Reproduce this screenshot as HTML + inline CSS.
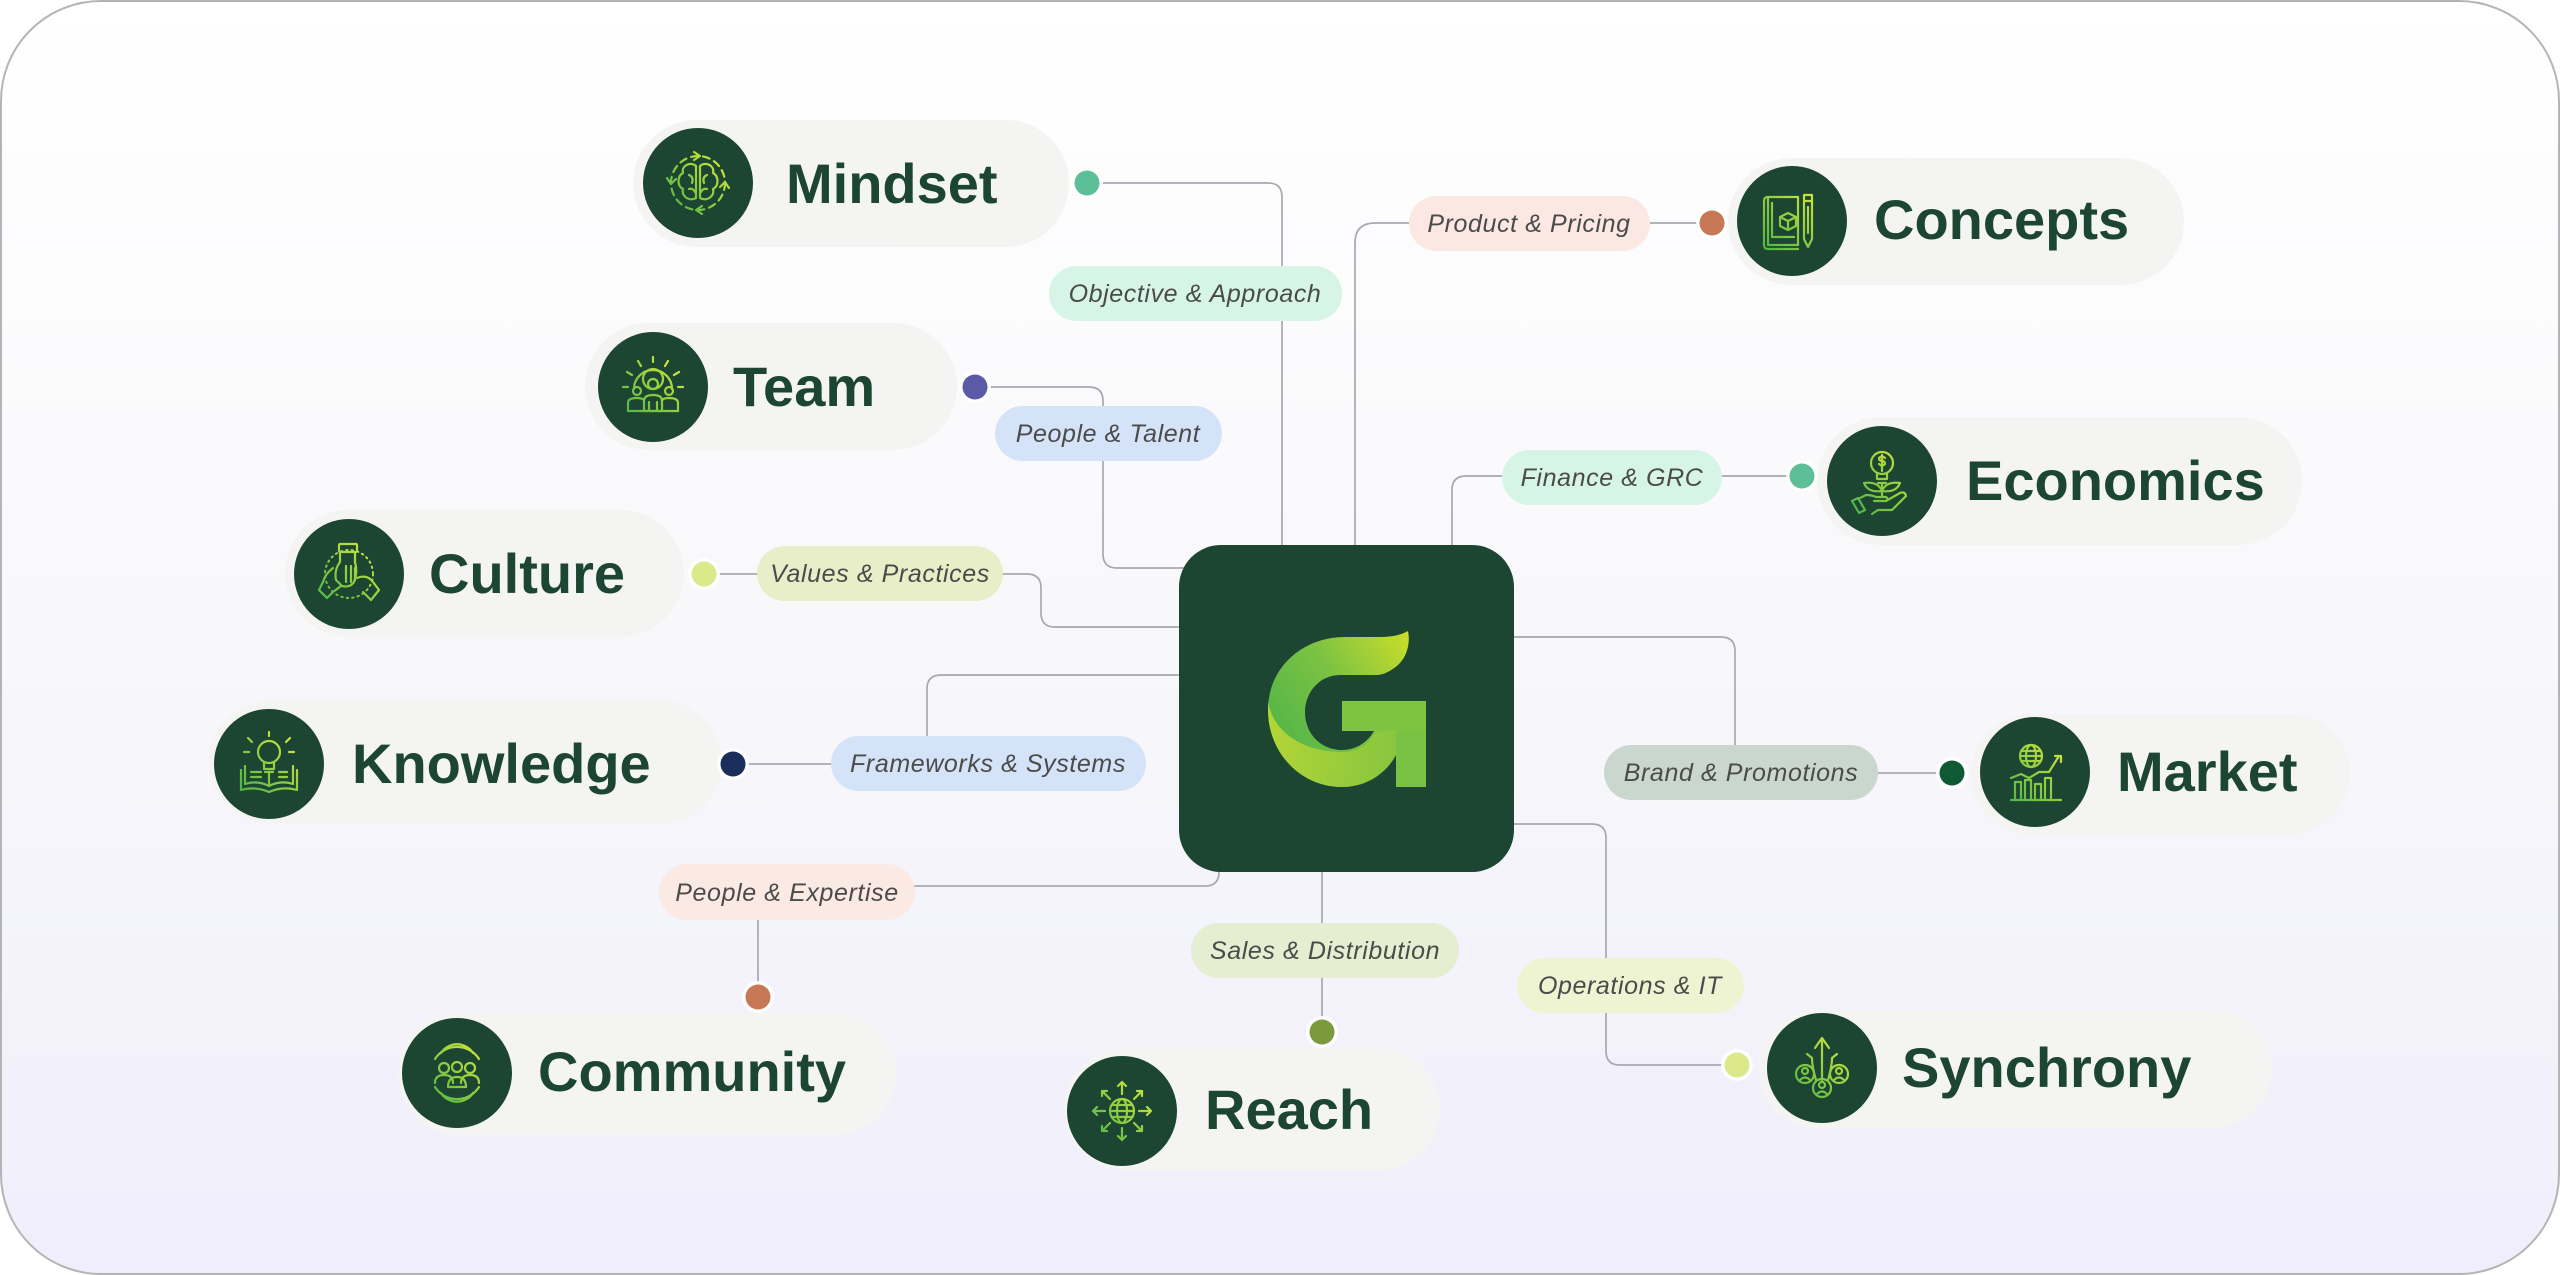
<!DOCTYPE html>
<html>
<head>
<meta charset="utf-8">
<style>
html,body{margin:0;padding:0;background:#ffffff;}
body{width:2560px;height:1275px;overflow:hidden;}
svg{display:block;}
.node{font-family:"Liberation Sans",Arial,sans-serif;font-weight:bold;font-size:56px;fill:#1c4532;}
.lbl{font-family:"Liberation Sans",Arial,sans-serif;font-style:italic;font-size:25px;fill:#4b4b4b;letter-spacing:0.6px;}
</style>
</head>
<body>
<svg width="2560" height="1275" viewBox="0 0 2560 1275" xmlns="http://www.w3.org/2000/svg">
<defs>
<linearGradient id="bg" x1="0" y1="0" x2="0" y2="1">
<stop offset="0" stop-color="#ffffff"/>
<stop offset="0.5" stop-color="#f8f8fb"/>
<stop offset="1" stop-color="#f0eefb"/>
</linearGradient>
<linearGradient id="ig" gradientUnits="userSpaceOnUse" x1="-28" y1="28" x2="28" y2="-28">
<stop offset="0" stop-color="#4db548"/>
<stop offset="1" stop-color="#d8e83a"/>
</linearGradient>
<linearGradient id="gmain" gradientUnits="userSpaceOnUse" x1="1275" y1="720" x2="1410" y2="635">
<stop offset="0" stop-color="#58b747"/>
<stop offset="0.45" stop-color="#7cc242"/>
<stop offset="1" stop-color="#cbde2b"/>
</linearGradient>
<linearGradient id="gfold" gradientUnits="userSpaceOnUse" x1="1268" y1="740" x2="1400" y2="760">
<stop offset="0" stop-color="#b3d536"/>
<stop offset="1" stop-color="#86c53f"/>
</linearGradient>
</defs>

<!-- frame -->
<rect x="1" y="1" width="2558" height="1273" rx="100" ry="100" fill="url(#bg)" stroke="#b4b4b4" stroke-width="2"/>

<!-- connectors -->
<g fill="none" stroke="#a8a8b0" stroke-width="1.7">
<!-- Mindset -->
<path d="M1099 183 H1268 Q1282 183 1282 197 V546"/>
<!-- Team -->
<path d="M987 387 H1089 Q1103 387 1103 401 V554 Q1103 568 1117 568 H1193"/>
<!-- Culture -->
<path d="M716 574 H760"/>
<path d="M1000 574 H1027 Q1041 574 1041 588 V613 Q1041 627 1055 627 H1180"/>
<!-- Knowledge -->
<path d="M745 764 H834"/>
<path d="M927 738 V689 Q927 675 941 675 H1180"/>
<!-- Community -->
<path d="M912 886 H1205 Q1219 886 1219 872"/>
<path d="M758 918 V985"/>
<!-- Reach -->
<path d="M1322 871 V1020"/>
<!-- Synchrony -->
<path d="M1513 824 H1592 Q1606 824 1606 838 V1051 Q1606 1065 1620 1065 H1725"/>
<!-- Market -->
<path d="M1513 637 H1721 Q1735 637 1735 651 V748"/>
<path d="M1875 773 H1940"/>
<!-- Economics -->
<path d="M1452 546 V490 Q1452 476 1466 476 H1505"/>
<path d="M1719 476 H1790"/>
<!-- Concepts -->
<path d="M1355 546 V243 Q1355 223 1375 223 H1412"/>
<path d="M1647 223 H1700"/>
</g>

<!-- center box -->
<rect x="1179" y="545" width="335" height="327" rx="42" ry="42" fill="#1c4532"/>
<!-- G logo -->
<path d="M1408 631 C1411 646 1405 659 1398 665 C1392 670 1386 674 1378 675 L1340 675 C1320 675 1305 692 1305 712 C1305 735 1322 750 1342 750 C1356 750 1368 742 1374 731 L1342 731 L1342 701 L1426 701 L1426 787 L1396 787 L1396 755 C1385 775 1365 787 1342 787 C1300 787 1268 752 1268 710 C1268 668 1302 637 1345 637 L1380 637 C1392 637 1401 635 1408 631 Z" fill="url(#gmain)"/>
<path d="M1268 702 C1274 734 1305 752 1342 752 C1358 752 1369 744 1375 733 L1396 733 L1396 755 C1385 775 1365 787 1342 787 C1300 787 1268 752 1268 710 Z" fill="url(#gfold)"/>
<rect x="1396" y="701" width="30" height="86" fill="#7ac243"/>
<path d="M1342 701 H1426 V731 H1342 Z" fill="#7fc342"/>

<!-- pills -->
<g fill="#f4f4f2">
<rect x="633" y="120" width="436" height="127" rx="63.5"/>
<rect x="585" y="323" width="372" height="127" rx="63.5"/>
<rect x="285" y="510" width="399" height="127" rx="63.5"/>
<rect x="209" y="700" width="513" height="124" rx="62"/>
<rect x="398" y="1012" width="498" height="123" rx="61.5"/>
<rect x="1064" y="1048" width="376" height="122" rx="61"/>
<rect x="1758" y="1010" width="514" height="118" rx="59"/>
<rect x="1971" y="714" width="379" height="120" rx="60"/>
<rect x="1817" y="417" width="485" height="128" rx="64"/>
<rect x="1728" y="158" width="456" height="127" rx="63.5"/>
</g>

<!-- icon circles -->
<g fill="#1c4532">
<circle cx="698" cy="183" r="55"/>
<circle cx="653" cy="387" r="55"/>
<circle cx="349" cy="574" r="55"/>
<circle cx="269" cy="764" r="55"/>
<circle cx="457" cy="1073" r="55"/>
<circle cx="1122" cy="1111" r="55"/>
<circle cx="1822" cy="1068" r="55"/>
<circle cx="2035" cy="772" r="55"/>
<circle cx="1882" cy="481" r="55"/>
<circle cx="1792" cy="221" r="55"/>
</g>

<!-- icons -->
<g fill="none" stroke="url(#ig)" stroke-width="2.2" stroke-linecap="round" stroke-linejoin="round">
<!-- Mindset -->
<g transform="translate(698,183)">
<circle r="27" stroke-dasharray="7 5"/>
<path d="M-2 -17 C-8 -22 -17 -17 -15 -10 C-21 -7 -21 3 -15 6 C-17 13 -9 19 -2 15 Z"/>
<path d="M2 -17 C8 -22 17 -17 15 -10 C21 -7 21 3 15 6 C17 13 9 19 2 15 Z"/>
<path d="M-9 -8 q5 2 3 8 M9 -8 q-5 2 -3 8 M-9 6 q4 -1 6 3 M9 6 q-4 -1 -6 3"/>
<path d="M-31 -5 l4 6 l5 -5 M31 5 l-4 -6 l-5 5 M-4 -31 l6 4 l-6 4 M4 31 l-6 -4 l6 -4"/>
</g>
<!-- Team -->
<g transform="translate(653,387)">
<path d="M-19 2 A19 19 0 1 1 19 2"/>
<path d="M-21 -12 l-5 -3 M21 -12 l5 -3 M-12 -21 l-3 -5 M12 -21 l3 -5 M0 -25 v-5 M-25 0 h-5 M25 0 h5"/>
<circle cx="0" cy="-8" r="10"/>
<circle cx="0" cy="-3" r="5"/>
<path d="M-9 24 v-10 q0 -6 9 -6 q9 0 9 6 v10 Z"/>
<circle cx="-16" cy="4" r="4"/>
<circle cx="16" cy="4" r="4"/>
<path d="M-25 24 v-8 q0 -5 9 -5 q5 0 7 2 M25 24 v-8 q0 -5 -9 -5 q-5 0 -7 2"/>
<path d="M-25 24 h50 M-4 15 v9 M4 15 v9"/>
</g>
<!-- Culture -->
<g transform="translate(349,574)">
<circle r="24" stroke-dasharray="1.5 4" stroke-width="2"/>
<rect x="-10" y="-30" width="18" height="8" rx="1"/>
<path d="M-9 -22 v10 q-6 8 -4 18 l6 6 q8 2 12 -4 q4 -10 1 -20 v-10"/>
<path d="M-3 -8 v16 M2 -8 v16 M6 -6 v12"/>
<path d="M-16 -6 q-8 6 -10 14 l-4 8 l8 8 l6 -6 l8 -6"/>
<path d="M8 4 q10 -4 16 4 l6 8 l-8 10 l-8 -8"/>
<path d="M-30 16 l8 8 M30 16 l-8 10"/>
</g>
<!-- Knowledge -->
<g transform="translate(269,764)">
<path d="M-28 6 V26 Q-14 22 0 28 Q14 22 28 26 V6"/>
<path d="M-24 2 V20 Q-12 16 0 22 Q12 16 24 20 V2"/>
<path d="M0 8 V22"/>
<circle cx="0" cy="-12" r="11"/>
<path d="M-5 -1 v6 h10 v-6 M-4 8 h8"/>
<path d="M-18 8 h10 M-18 13 h10 M10 8 h8 M10 13 h8"/>
<path d="M-17 -22 l-4 -4 M17 -22 l4 -4 M0 -28 v-4 M-20 -12 h-5 M20 -12 h5"/>
</g>
<!-- Community -->
<g transform="translate(457,1073)">
<path d="M-22 -14 A26 26 0 0 1 22 -14 M-16 -20 A19 19 0 0 1 16 -20"/>
<path d="M-22 14 A26 26 0 0 0 22 14 M-16 20 A19 19 0 0 0 16 20"/>
<circle cx="-13" cy="-5" r="5"/>
<circle cx="13" cy="-5" r="5"/>
<circle cx="0" cy="-6" r="5"/>
<path d="M-22 10 q0 -8 9 -8 q9 0 9 8 M4 10 q0 -8 9 -8 q9 0 9 8"/>
<path d="M-9 14 q0 -10 9 -10 q9 0 9 10 Z"/>
</g>
<!-- Reach -->
<g transform="translate(1122,1111)">
<circle r="12"/>
<ellipse rx="5" ry="12"/>
<path d="M-12 0 h24 M-10 -6 h20 M-10 6 h20"/>
<path d="M0 -17 v-12 M-4 -25 l4 -4 l4 4 M0 17 v12 M-4 25 l4 4 l4 -4 M-17 0 h-12 M-25 -4 l-4 4 l4 4 M17 0 h12 M25 -4 l4 4 l-4 4"/>
<path d="M-12 -12 l-8 -8 M-20 -15 v-5 h5 M12 -12 l8 -8 M20 -15 v-5 h-5 M-12 12 l-8 8 M-20 15 v5 h5 M12 12 l8 8 M20 15 v5 h-5"/>
</g>
<!-- Synchrony -->
<g transform="translate(1822,1068)">
<path d="M0 12 V-28 M-7 -20 L0 -30 L7 -20"/>
<path d="M-6 12 q-4 -14 -4 -22 M6 12 q4 -14 4 -22 M-10 -10 l-5 -4 M10 -10 l5 -4"/>
<circle cx="-17" cy="6" r="9"/>
<circle cx="17" cy="6" r="9"/>
<circle cx="0" cy="20" r="9"/>
<circle cx="-17" cy="3" r="3"/>
<circle cx="17" cy="3" r="3"/>
<circle cx="0" cy="17" r="3"/>
<path d="M-22 12 q5 -5 10 0 M12 12 q5 -5 10 0 M-5 26 q5 -5 10 0"/>
</g>
<!-- Market -->
<g transform="translate(2035,772)">
<circle cx="-4" cy="-16" r="11"/>
<ellipse cx="-4" cy="-16" rx="5" ry="11"/>
<path d="M-15 -16 h22 M-13 -21 h18 M-13 -11 h18"/>
<path d="M-24 28 h50"/>
<path d="M-20 28 v-18 h6 v18 M-10 28 v-20 h6 v20 M0 28 v-16 h6 v16 M10 28 v-22 h6 v22"/>
<path d="M-24 6 l10 -4 l8 4 l10 -6 l10 0 l10 -16 M20 -16 h6 v6"/>
</g>
<!-- Economics -->
<g transform="translate(1882,481)">
<circle cx="0" cy="-18" r="11"/>
<path d="M-5 -7 v5 h10 v-5 M-4 2 h8"/>
<path d="M3 -23 q-3 -3 -6 0 q0 3 3 3 q3 0 3 3 q-3 3 -6 0 M0 -26 v16"/>
<path d="M0 2 v14"/>
<path d="M0 10 q-4 -10 -18 -8 q4 10 18 8 M0 10 q4 -10 18 -8 q-4 10 -18 8"/>
<path d="M-24 18 l8 -4 q6 0 10 2 h10 q3 2 0 4 h-12 M4 20 l14 -8 q5 -2 6 3 l-14 14 h-14 l-6 4"/>
<path d="M-30 20 l6 -3 l7 12 l-6 3 Z"/>
</g>
<!-- Concepts -->
<g transform="translate(1792,221)">
<path d="M-24 -24 h30 v48 h-30 Z"/>
<path d="M-24 -24 q-4 0 -4 4 v44 q0 4 4 4 h30"/>
<path d="M-20 -18 v34 h22"/>
<path d="M-12 -4 l8 -4 l8 4 v9 l-8 4 l-8 -4 Z M-12 -4 l8 4 l8 -4 M-4 0 v9"/>
<path d="M12 -26 h8 v44 l-4 8 l-4 -8 Z M12 -20 h8 M16 -14 v26"/>
</g>
</g>

<!-- dots -->
<g>
<g fill="#ffffff" opacity="0.9">
<circle cx="1087" cy="183" r="16"/>
<circle cx="975" cy="387" r="16"/>
<circle cx="704" cy="574" r="16"/>
<circle cx="733" cy="764" r="16"/>
<circle cx="758" cy="997" r="16"/>
<circle cx="1322" cy="1032" r="16"/>
<circle cx="1737" cy="1065" r="16"/>
<circle cx="1952" cy="773" r="16"/>
<circle cx="1802" cy="476" r="16"/>
<circle cx="1712" cy="223" r="16"/>
</g>
<circle cx="1087" cy="183" r="12.5" fill="#5cbf97"/>
<circle cx="975" cy="387" r="12.5" fill="#5a5aa6"/>
<circle cx="704" cy="574" r="12.5" fill="#dce98a"/>
<circle cx="733" cy="764" r="12.5" fill="#1b2d5c"/>
<circle cx="758" cy="997" r="12.5" fill="#c67954"/>
<circle cx="1322" cy="1032" r="12.5" fill="#7b9a3c"/>
<circle cx="1737" cy="1065" r="12.5" fill="#dce98a"/>
<circle cx="1952" cy="773" r="12.5" fill="#0e5a34"/>
<circle cx="1802" cy="476" r="12.5" fill="#5cbf97"/>
<circle cx="1712" cy="223" r="12.5" fill="#c67954"/>
</g>

<!-- connector labels -->
<rect x="1049" y="266" width="293" height="55" rx="27.5" fill="#d6f5e7"/>
<rect x="995" y="406" width="227" height="55" rx="27.5" fill="#d4e3f7"/>
<rect x="757" y="546" width="246" height="55" rx="27.5" fill="#e8eec8"/>
<rect x="831" y="736" width="315" height="55" rx="27.5" fill="#d4e3f7"/>
<rect x="659" y="864" width="256" height="56" rx="28" fill="#fbe9e3"/>
<rect x="1191" y="923" width="268" height="55" rx="27.5" fill="#e5eed0"/>
<rect x="1517" y="958" width="227" height="55" rx="27.5" fill="#eef4d2"/>
<rect x="1604" y="745" width="274" height="55" rx="27.5" fill="#c9d7cf"/>
<rect x="1502" y="450" width="220" height="55" rx="27.5" fill="#d6f5e7"/>
<rect x="1409" y="196" width="241" height="55" rx="27.5" fill="#fbe8e2"/>

<g class="lbl" text-anchor="middle">
<text x="1195" y="302">Objective &amp; Approach</text>
<text x="1108" y="442">People &amp; Talent</text>
<text x="880" y="582">Values &amp; Practices</text>
<text x="988" y="772">Frameworks &amp; Systems</text>
<text x="787" y="901">People &amp; Expertise</text>
<text x="1325" y="959">Sales &amp; Distribution</text>
<text x="1630" y="994">Operations &amp; IT</text>
<text x="1741" y="781">Brand &amp; Promotions</text>
<text x="1612" y="486">Finance &amp; GRC</text>
<text x="1529" y="232">Product &amp; Pricing</text>
</g>

<!-- node titles -->
<g class="node">
<text x="786" y="203">Mindset</text>
<text x="733" y="406">Team</text>
<text x="429" y="593">Culture</text>
<text x="352" y="783">Knowledge</text>
<text x="538" y="1091">Community</text>
<text x="1205" y="1129">Reach</text>
<text x="1902" y="1087">Synchrony</text>
<text x="2117" y="791">Market</text>
<text x="1966" y="500">Economics</text>
<text x="1874" y="239">Concepts</text>
</g>
</svg>
</body>
</html>
